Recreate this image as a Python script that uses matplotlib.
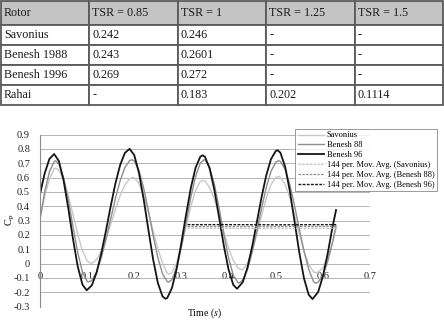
import numpy as np
import matplotlib
matplotlib.use("Agg")
import matplotlib.pyplot as plt
from matplotlib.ticker import FuncFormatter

plt.rcParams['font.family'] = ['Liberation Serif', 'DejaVu Serif']
plt.rcParams['mathtext.fontset'] = 'stix'

# ---------------- TABLE DATA ----------------
columns = ['Rotor', 'TSR = 0.85', 'TSR = 1', 'TSR = 1.25', 'TSR = 1.5']
rotors = ['Savonius', 'Benesh 1988', 'Benesh 1996', 'Rahai']
tsr_085 = ['0.242', '0.243', '0.269', '-']
tsr_1 = ['0.246', '0.2601', '0.272', '0.183']
tsr_125 = ['-', '-', '-', '0.202']
tsr_15 = ['-', '-', '-', '0.1114']

# ---------------- CURVE DATA ----------------
t_b96 = [0.0, 0.0005, 0.01, 0.02, 0.03, 0.04, 0.05, 0.06, 0.07, 0.08, 0.09, 0.099,
         0.11, 0.12, 0.13, 0.14, 0.15, 0.16, 0.17, 0.18, 0.19,
         0.20, 0.21, 0.22, 0.23, 0.24, 0.25, 0.26, 0.266,
         0.27, 0.28, 0.29, 0.30, 0.31, 0.32, 0.33, 0.34, 0.345,
         0.35, 0.36, 0.37, 0.38, 0.39, 0.40, 0.41, 0.418,
         0.43, 0.44, 0.45, 0.46, 0.47, 0.48, 0.49, 0.50, 0.504,
         0.51, 0.52, 0.53, 0.54, 0.55, 0.56, 0.57, 0.578,
         0.59, 0.60, 0.61, 0.62, 0.628]
cp_b96 = [0.95, 0.49, 0.63, 0.73, 0.764, 0.715, 0.580, 0.385, 0.171, -0.020, -0.147, -0.187,
          -0.152, -0.063, 0.070, 0.230, 0.400, 0.559, 0.687, 0.771, 0.800,
          0.756, 0.631, 0.446, 0.234, 0.028, -0.136, -0.230, -0.246,
          -0.240, -0.170, -0.035, 0.146, 0.344, 0.528, 0.668, 0.745, 0.755,
          0.744, 0.661, 0.511, 0.320, 0.123, -0.043, -0.149, -0.176,
          -0.131, -0.029, 0.118, 0.289, 0.463, 0.616, 0.728, 0.785, 0.790,
          0.773, 0.675, 0.505, 0.293, 0.077, -0.104, -0.218, -0.248,
          -0.199, -0.090, 0.065, 0.246, 0.373]

t_b88 = [0.0, 0.01, 0.02, 0.03, 0.033, 0.04, 0.05, 0.06, 0.07, 0.08, 0.09, 0.10, 0.103,
         0.11, 0.12, 0.13, 0.14, 0.15, 0.16, 0.17, 0.18, 0.19, 0.195,
         0.20, 0.21, 0.22, 0.23, 0.24, 0.25, 0.26, 0.27, 0.273,
         0.28, 0.29, 0.30, 0.31, 0.32, 0.33, 0.34, 0.348,
         0.35, 0.36, 0.37, 0.38, 0.39, 0.40, 0.41, 0.42, 0.422,
         0.43, 0.44, 0.45, 0.46, 0.47, 0.48, 0.49, 0.50, 0.506,
         0.51, 0.52, 0.53, 0.54, 0.55, 0.56, 0.57, 0.58, 0.585,
         0.59, 0.60, 0.61, 0.62, 0.628]
cp_b88 = [0.31, 0.50, 0.64, 0.71, 0.717, 0.696, 0.600, 0.443, 0.256, 0.077, -0.059, -0.125, -0.129,
          -0.117, -0.059, 0.040, 0.169, 0.312, 0.454, 0.578, 0.669, 0.718, 0.724,
          0.715, 0.648, 0.525, 0.365, 0.195, 0.041, -0.073, -0.127, -0.130,
          -0.112, -0.026, 0.115, 0.288, 0.462, 0.608, 0.700, 0.724,
          0.722, 0.669, 0.550, 0.385, 0.203, 0.038, -0.081, -0.134, -0.136,
          -0.117, -0.043, 0.077, 0.227, 0.386, 0.531, 0.643, 0.706, 0.717,
          0.712, 0.657, 0.549, 0.403, 0.240, 0.086, -0.040, -0.125, -0.138,
          -0.130, -0.085, 0.010, 0.140, 0.265]

t_sav = [0.0, 0.01, 0.02, 0.03, 0.033, 0.04, 0.05, 0.06, 0.07, 0.08, 0.09, 0.10, 0.108,
         0.11, 0.12, 0.13, 0.14, 0.15, 0.16, 0.17, 0.18, 0.19, 0.197,
         0.20, 0.21, 0.22, 0.23, 0.24, 0.25, 0.26, 0.27, 0.274,
         0.28, 0.29, 0.30, 0.31, 0.32, 0.33, 0.34, 0.345,
         0.35, 0.36, 0.37, 0.38, 0.39, 0.40, 0.41, 0.42, 0.427,
         0.43, 0.44, 0.45, 0.46, 0.47, 0.48, 0.49, 0.50, 0.505,
         0.51, 0.52, 0.53, 0.54, 0.55, 0.56, 0.57, 0.58, 0.585,
         0.59, 0.60, 0.61, 0.62, 0.628]
cp_sav = [0.31, 0.47, 0.59, 0.66, 0.666, 0.652, 0.585, 0.475, 0.340, 0.204, 0.090, 0.019, 0.0,
          0.001, 0.027, 0.086, 0.172, 0.274, 0.379, 0.474, 0.548, 0.591, 0.600,
          0.598, 0.558, 0.474, 0.358, 0.228, 0.103, 0.001, -0.068, -0.075,
          -0.063, 0.004, 0.119, 0.260, 0.399, 0.511, 0.572, 0.580,
          0.574, 0.530, 0.448, 0.340, 0.221, 0.109, 0.021, -0.032, -0.043,
          -0.041, 0.000, 0.087, 0.205, 0.335, 0.456, 0.550, 0.601, 0.608,
          0.602, 0.551, 0.459, 0.338, 0.206, 0.085, -0.007, -0.058, -0.064,
          -0.060, -0.030, 0.040, 0.140, 0.245]

# 144 per. moving averages
t_ma = [0.313, 0.40, 0.50, 0.60, 0.628]
ma_sav = [0.246, 0.245, 0.244, 0.245, 0.246]
ma_b88 = [0.258, 0.257, 0.257, 0.258, 0.258]
ma_b96 = [0.271, 0.271, 0.270, 0.271, 0.271]

W, H = 444, 321
fig = plt.figure(figsize=(W / 100, H / 100), dpi=100)

# ---------------- TABLE ----------------
axT = fig.add_axes([1 / W, 1 - 105 / H, 442 / W, 104 / H])
axT.axis('off')
rows = [list(r) for r in zip(rotors, tsr_085, tsr_1, tsr_125, tsr_15)]
tab = axT.table(cellText=rows, colLabels=columns, cellLoc='left',
                colLoc='left', bbox=[0, 0, 1, 1])
tab.auto_set_font_size(False)
tab.set_fontsize(8.7)
for (r, c), cell in tab.get_celld().items():
    cell.set_edgecolor('#5a5a5a')
    cell.set_linewidth(1.3)
    cell.PAD = 0.035
    cell.set_height(24 if r == 0 else 20)
    cell.get_text().set_color('#1a1a1a')
    if r == 0:
        cell.set_facecolor('#c4c4c4')

# ---------------- CHART ----------------
ax = fig.add_axes([40 / W, 1 - 306.5 / H, 330 / W, 172 / H])
ax.plot(t_sav, cp_sav, color='#c8c8c8', lw=1.0, label='Savonius')
ax.plot(t_b88, cp_b88, color='#8e8e8e', lw=1.0, label='Benesh 88')
ax.plot(t_b96, cp_b96, color='#151515', lw=1.3, label='Benesh 96')
ax.plot(t_ma, ma_sav, color='#c8c8c8', lw=0.9, ls=(0, (2, 1)),
        label='144 per. Mov. Avg. (Savonius)')
ax.plot(t_ma, ma_b88, color='#8e8e8e', lw=0.9, ls=(0, (2, 1)),
        label='144 per. Mov. Avg. (Benesh 88)')
ax.plot(t_ma, ma_b96, color='#151515', lw=1.0, ls=(0, (2, 1)),
        label='144 per. Mov. Avg. (Benesh 96)')

ax.set_xlim(0, 0.7)
ax.set_ylim(-0.3, 0.9)
ax.set_xticks(np.arange(0, 0.71, 0.1))
ax.set_yticks(np.arange(-0.3, 0.91, 0.1))
fmt = FuncFormatter(lambda v, _: '0' if abs(v) < 1e-9 else f'{v:.1f}')
ax.xaxis.set_major_formatter(fmt)
ax.yaxis.set_major_formatter(fmt)
ax.grid(axis='y', color='#a8a8a8', lw=0.6)
ax.set_axisbelow(True)
for s in ['top', 'right']:
    ax.spines[s].set_visible(False)
ax.spines['bottom'].set_position(('data', 0))
ax.spines['bottom'].set_visible(False)
ax.spines['left'].set_color('#8c8c8c')
ax.spines['left'].set_linewidth(0.8)
ax.tick_params(axis='both', length=0, labelsize=7.5, colors='#222222')
ax.tick_params(axis='y', pad=7.2)
ax.tick_params(axis='x', pad=6.0)

fig.text(10 / W, 1 - 220 / H, r'C$_\mathregular{p}$', rotation=90,
         ha='center', va='center', fontsize=7.5)
fig.text(204 / W, 1 - 313 / H, r'Time ($s$)', ha='center', va='center',
         fontsize=7)

leg = ax.legend(loc='upper left', bbox_to_anchor=(295 / W, 1 - 129 / H),
                bbox_transform=fig.transFigure, fontsize=6, frameon=True,
                fancybox=False, edgecolor='#808080', borderaxespad=0,
                handlelength=3.2, handletextpad=0.3, labelspacing=0.22,
                borderpad=0.3)
leg.get_frame().set_linewidth(0.7)

fig.savefig('out.png', dpi=100)
